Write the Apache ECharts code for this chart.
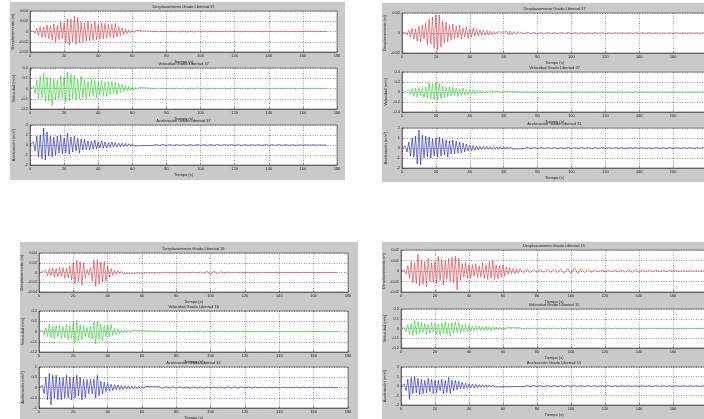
<!DOCTYPE html>
<html><head><meta charset="utf-8">
<script src="https://cdn.jsdelivr.net/npm/echarts@6/dist/echarts.min.js"></script>
<style>html,body{margin:0;padding:0;background:#fff}#c{width:704px;height:419px}</style>
</head><body><div id="c"></div>
<script>
// Time sampling: head values every 1 s from t=0 to t=70, tail values every 2 s from t=72
const headStep = 1, tailStart = 72, tailStep = 2;
const xTicks = [0,20,40,60,80,100,120,140,160,180];

// Units: displacement in mm, velocity in cm/s, acceleration in 0.1 m/s^2
const dispA_head = [0,0,1,-4,6,-8,10,-12,9,-11,13,-14,12,-17,15,-20,12,-16,19,-14,16,-22,25,-27,24,-20,30,-25,28,-22,18,-20,17,-19,21,-18,15,-17,19,-16,14,-15,17,-14,16,-13,15,-12,14,-13,16,-11,10,-8,7,-6,5,-4,3,-3,2,-2,2,-1.5,1.5,-1,1,-1,1,-0.8,0.8];
const dispA_tail = [-0.6,0.6,-0.5,0.6,-0.6,0.5,-0.6,0.7,-0.9,1.1,-1.4,1.5,-1.6,1.5,-1.4,1.2,-1,0.8,-0.6,0.6,-0.5,0.5,-0.5,0.5,-0.6,0.7,-0.7,0.6,-0.5,0.5,-0.5,0.6,-0.7,0.7,-0.6,0.5,-0.5,0.5,-0.4,0.5,-0.4,0.4,-0.4,0.4,-0.4,0.4,-0.3,0.3,-0.3,0.3,-0.2,0];
const velA_head = [0,0,2,-5,8,-10,12,-9,15,-13,11,-12,10,-17,9,-11,8,-10,12,-9,11,-13,16,-12,14,-10,13,-11,9,-10,12,-9,8,-10,7,-8,9,-7,8,-9,7,-6,8,-7,6,-8,7,-6,7,-5,6,-6,5,-4,4,-3,3,-2.5,2,-2,1.5,-1.5,1.2,-1,1,-0.8,0.8,-0.7,0.6,-0.6,0.5];
const velA_tail = [-0.5,0.5,-0.4,0.5,-0.4,0.4,-0.5,0.4,-0.4,0.5,-0.6,0.7,-0.8,0.8,-0.7,0.6,-0.5,0.5,-0.4,0.4,-0.4,0.4,-0.3,0.4,-0.4,0.3,-0.4,0.4,-0.3,0.3,-0.4,0.4,-0.3,0.3,-0.4,0.3,-0.3,0.3,-0.3,0.3,-0.3,0.3,-0.3,0.2,-0.3,0.3,-0.2,0.2,-0.2,0.2,-0.2,0];
const accA_head = [0,0,3,-6,9,-12,10,-14,17,-15,13,-11,9,-12,8,-10,9,-8,10,-9,7,-8,12,-9,8,-7,9,-6,7,-8,6,-5,6,-5,4,-5,4,-4,5,-4,3,-3,4,-3,3,-3,2.5,-2.5,3,-2,2.5,-2,2,-2,1.8,-1.6,1.5,-1.4,1.3,-1.2,1.2,-1,1,-0.8,0.8,-0.7,0.6,-0.6,0.5,-0.5,0.5];
const accA_tail = [-0.5,0.4,-0.4,0.5,-0.4,0.4,-0.4,0.4,-0.4,0.4,-0.5,0.5,-0.5,0.5,-0.4,0.4,-0.4,0.4,-0.3,0.4,-0.4,0.3,-0.3,0.4,-0.3,0.3,-0.4,0.3,-0.3,0.3,-0.3,0.3,-0.3,0.3,-0.3,0.3,-0.3,0.3,-0.3,0.3,-0.3,0.2,-0.3,0.2,-0.2,0.2,-0.2,0.2,-0.2,0.2,-0.2,0];

const dispB_head = [0,0,1,-2,3,-4,5,-6,4,-8,7,-9,8,-6,10,-12,14,-11,16,-15,18,-17,18,-14,12,-10,11,-9,8,-7,9,-6,7,-5,8,-6,5,-4,6,-5,4,-4,5,-3,4,-3,3,-2.5,3,-2,2.5,-2,2,-1.5,1.5,-1.2,1,-1,1,-0.8,0.8,-1,1.5,-1.8,2,-1.7,1.5,-1.2,1,-0.8,0.7];
const dispB_tail = [-0.6,0.6,-0.5,0.5,-0.5,0.4,-0.4,0.5,-0.4,0.4,-0.5,0.4,-0.4,0.5,-0.4,0.4,-0.4,0.4,-0.4,0.3,-0.3,0.4,-0.3,0.3,-0.4,0.3,-0.3,0.3,-0.3,0.3,-0.3,0.3,-0.3,0.3,-0.3,0.3,-0.3,0.3,-0.3,0.3,-0.3,0.2,-0.3,0.2,-0.2,0.2,-0.2,0.2,-0.2,0.2,-0.2,0.2,-0.2,0.2,-0.2];
const velB_head = [0,0,1,-3,4,-6,7,-9,8,-10,9,-7,9,-11,10,-12,18,-14,16,-15,19,-16,17,-13,12,-11,10,-9,11,-8,9,-7,8,-9,6,-7,8,-6,5,-6,5,-4,5,-4,4,-3,3,-3,2.5,-2.5,2,-2,1.8,-1.5,1.4,-1.2,1,-1,0.9,-0.8,0.8,-0.8,0.9,-1,0.9,-0.8,0.7,-0.7,0.6,-0.6,0.6];
const velB_tail = [-0.6,0.5,-0.5,0.5,-0.5,0.5,-0.4,0.5,-0.4,0.4,-0.4,0.4,-0.4,0.4,-0.4,0.4,-0.4,0.4,-0.4,0.4,-0.4,0.4,-0.3,0.4,-0.3,0.3,-0.3,0.3,-0.3,0.3,-0.3,0.3,-0.3,0.3,-0.3,0.3,-0.3,0.3,-0.3,0.3,-0.3,0.3,-0.3,0.3,-0.3,0.3,-0.3,0.3,-0.3,0.3,-0.3,0.3,-0.3,0.3,-0.3];
const accB_head = [0,0,2,-4,6,-8,10,-9,12,-16,18,-17,13,-10,12,-9,11,-10,9,-8,10,-9,11,-8,9,-7,8,-9,7,-6,8,-6,7,-5,6,-5,5,-4,4,-3,3,-2.5,2.5,-2,2,-2,1.8,-1.6,1.6,-1.5,1.5,-1.4,1.4,-1.3,1.4,-1.3,1.2,-1.2,1.3,-1.2,1.2,-1.2,1.1,-1,1.1,-1,1,-0.9,0.9,-0.8,0.8];
const accB_tail = [-0.8,0.7,-0.7,0.6,-0.6,0.6,-0.5,0.5,-0.5,0.5,-0.5,0.4,-0.4,0.4,-0.4,0.4,-0.4,0.4,-0.4,0.4,-0.4,0.4,-0.4,0.4,-0.3,0.3,-0.3,0.3,-0.3,0.3,-0.3,0.3,-0.3,0.3,-0.3,0.3,-0.3,0.3,-0.3,0.3,-0.3,0.3,-0.3,0.3,-0.3,0.3,-0.3,0.3,-0.3,0.3,-0.3,0.3,-0.3,0.3,-0.3];

const dispC_head = [0,0,1,-3,5,-7,8,-6,9,-10,8,-9,11,-8,10,-12,9,-11,14,-16,20,-23,25,-18,22,-26,20,-12,6,-5,10,-18,26,-28,27,-24,22,-20,23,-18,14,-10,8,-6,5,-4,3.5,-3,2.5,-2,2,-2,1.8,-1.5,1.5,-1.4,1.2,-1.2,1.1,-1,1,-1,1,-0.9,0.9,-0.8,0.8,-0.8,0.8,-0.7,0.7];
const dispC_tail = [-0.7,0.7,-0.6,0.6,-0.6,0.6,-0.6,0.6,-0.6,0.7,-0.8,1,-1.5,2.5,-3.5,3,-2.5,1.8,-1.2,1,-0.8,0.7,-0.6,0.6,-0.5,0.5,-0.5,0.5,-0.4,0.5,-0.4,0.4,-0.4,0.4,-0.4,0.4,-0.4,0.4,-0.3,0.4,-0.3,0.3,-0.3,0.3,-0.3,0.3,-0.3,0.3,-0.3,0.3,-0.2,0];
const velC_head = [0,0,1,-3,4,-5,7,-6,5,-7,6,-5,6,-7,5,-6,7,-8,6,-7,9,-10,11,-9,7,-8,6,-5,4,-6,5,-7,9,-12,10,-8,7,-9,6,-5,6,-5,7,-4,3,-3,2.5,-2,2,-1.5,1.5,-1.2,1.2,-1,1,-0.9,0.9,-0.8,0.8,-0.7,0.8,-0.7,0.7,-0.6,0.6,-0.6,0.6,-0.5,0.5,-0.5,0.5];
const velC_tail = [-0.5,0.5,-0.5,0.5,-0.4,0.5,-0.4,0.4,-0.4,0.5,-0.5,0.6,-0.7,0.8,-0.7,0.6,-0.5,0.5,-0.4,0.4,-0.4,0.4,-0.4,0.4,-0.3,0.4,-0.3,0.3,-0.3,0.3,-0.3,0.3,-0.3,0.3,-0.3,0.3,-0.3,0.3,-0.3,0.3,-0.3,0.3,-0.2,0.3,-0.2,0.2,-0.2,0.2,-0.2,0.2,-0.2,0];
const accC_head = [0,0,1,-3,5,-6,7,-8.5,6,-5,6,-6,5,-6,5,-5,6,-5,5,-6,5,-5,6,-4,5,-6,4,-5,4,-3,4,-3,4,-5,6,-4,3,-3,2.5,-2,2,-1.8,1.6,-1.5,1.4,-1.2,1.2,-1,1,-1,0.9,-0.8,0.8,-0.7,0.7,-0.6,0.6,-0.6,0.5,-0.5,0.5,-0.5,0.5,-0.4,0.5,-0.4,0.4,-0.4,0.4,-0.4,0.4];
const accC_tail = [-0.4,0.4,-0.3,0.4,-0.3,0.3,-0.3,0.3,-0.3,0.3,-0.3,0.3,-0.3,0.3,-0.3,0.3,-0.3,0.3,-0.3,0.3,-0.3,0.3,-0.3,0.3,-0.2,0.3,-0.2,0.2,-0.2,0.2,-0.2,0.2,-0.2,0.2,-0.2,0.2,-0.2,0.2,-0.2,0.2,-0.2,0.2,-0.2,0.2,-0.2,0.2,-0.2,0.2,-0.2,0.2,-0.2,0];

const dispD_head = [0,0,1,-3,5,-7,9,-11,8,-12,16,-14,10,-13,9,-15,12,-10,8,-11,9,-12,14,-9,11,-13,10,-8,12,-10,13,-11,14,-18,12,-9,7,-6,8,-7,6,-7,6,-5,7,-6,5,-6,8,-7,6,-8,9,-7,10,-8,6,-7,5,-6,6,-5,4,-3,3,-2.5,2.5,-2.5,2,-2,2];
const dispD_tail = [-2,2,-1.8,1.6,-1.5,1.5,-1.4,1.5,-1.6,1.6,-1.8,2,-2.2,2.5,-2.8,3,-2.6,2.2,-1.8,1.5,-1.2,1,-0.9,0.8,-0.8,0.7,-0.7,0.8,-0.9,1,-1.2,1.3,-1.5,1.6,-1.4,1.2,-1,0.8,-0.7,0.6,-0.6,0.5,-0.5,0.5,-0.4,0.4,-0.4,0.4,-0.4,0.3,-0.3,0.3,-0.3,0.3,-0.3];
const velD_head = [0,0,1,-3,4,-6,5,-7,8,-6,7,-5,6,-4,5,-6,4,-5,6,-4,5,-6,5,-7,6,-5,7,-6,5,-8,6,-5,7,-4,6,-5,4,-3,4,-3,3,-3,2.5,-2.5,3,-2,2.5,-2,2,-2,2.5,-2,2,-2.5,2,-1.8,1.6,-1.5,1.6,-1.4,1.2,-1.2,1,-1,1,-0.9,0.9,-0.8,0.8,-0.8,0.7];
const velD_tail = [-0.7,0.7,-0.6,0.6,-0.6,0.6,-0.6,0.6,-0.6,0.6,-0.7,0.7,-0.7,0.8,-0.7,0.7,-0.6,0.6,-0.5,0.5,-0.5,0.5,-0.5,0.5,-0.4,0.5,-0.4,0.4,-0.4,0.4,-0.4,0.4,-0.4,0.4,-0.4,0.4,-0.3,0.3,-0.3,0.3,-0.3,0.3,-0.3,0.3,-0.3,0.3,-0.3,0.3,-0.3,0.3,-0.3,0.3,-0.3,0.3,-0.3];
const accD_head = [0,0,2,-5,7,-14,9,-8,10,-7,8,-9,7,-8,6,-7,8,-6,7,-8,6,-7,6,-5,7,-8,6,-7,9,-8,6,-5,6,-4,5,-3,4,-3,3,-2.5,2.5,-2,2,-2,1.8,-1.6,1.5,-1.5,1.4,-1.3,1.2,-1.2,1.2,-1.1,1.2,-1,1,-1,1.1,-1,0.9,-0.9,0.8,-0.8,0.7,-0.7,0.7,-0.6,0.6,-0.6,0.6];
const accD_tail = [-0.6,0.5,-0.5,0.5,-0.5,0.5,-0.5,0.5,-0.5,0.5,-0.5,0.5,-0.5,0.5,-0.4,0.4,-0.4,0.4,-0.4,0.4,-0.4,0.4,-0.4,0.4,-0.4,0.4,-0.4,0.4,-0.3,0.3,-0.3,0.3,-0.3,0.3,-0.3,0.3,-0.3,0.3,-0.3,0.3,-0.3,0.3,-0.3,0.3,-0.3,0.3,-0.3,0.3,-0.3,0.3,-0.3,0.3,-0.3,0.3,-0.3];

const titles = [
  'Desplazamiento Grado Libertad 37','Velocidad Grado Libertad 37','Aceleración Grado Libertad 37',
  'Desplazamiento Grado Libertad 37','Velocidad Grado Libertad 37','Aceleración Grado Libertad 31',
  'Desplazamiento Grado Libertad 16','Velocidad Grado Libertad 16','Aceleración Grado Libertad 16',
  'Desplazamiento Grado Libertad 15','Velocidad Grado Libertad 15','Aceleración Grado Libertad 15'
];
const yNames = ['Desplazamiento (m)','Velocidad (m/s)','Aceleración (m/s²)'];
const yRanges = [ // [max, interval]
  [0.04,0.02],[0.2,0.1],[2,1],
  [0.02,0.02],[0.4,0.2],[2,1],
  [0.04,0.02],[0.2,0.1],[1,0.5],
  [0.02,0.01],[0.2,0.1],[2,1]
];
const seriesData = [
  [dispA_head,dispA_tail],[velA_head,velA_tail],[accA_head,accA_tail],
  [dispB_head,dispB_tail],[velB_head,velB_tail],[accB_head,accB_tail],
  [dispC_head,dispC_tail],[velC_head,velC_tail],[accC_head,accC_tail],
  [dispD_head,dispD_tail],[velD_head,velD_tail],[accD_head,accD_tail]
];
const unitScale = [0.001, 0.01, 0.1];

// layout (pixels)
const boxes = [
  [30,11,307,41],[30,68,307,41],[30,125,307,40],
  [402,13,305,40],[402,72,305,40],[402,128,305,40],
  [39,253,309,39],[39,311,309,41],[39,367,309,41],
  [401,250,306,42],[401,309,306,39],[401,367,306,38]
];
const panelRects = [[10,2,335,178],[382,3,330,179],[20,242,338,190],[382,242,330,190]];
const colors = ['#e0303c','#22d022','#1515c8'];
const FONT = 'Liberation Sans';
const FS = 4;

function build(head, tail, scale) {
  const d = [];
  head.forEach((v,i) => d.push([i*headStep, +(v*scale).toPrecision(6)]));
  tail.forEach((v,j) => d.push([tailStart + j*tailStep, +(v*scale).toPrecision(6)]));
  return d;
}

const grid = [], xAxis = [], yAxis = [], series = [], graphic = [];
panelRects.forEach(r => graphic.push({type:'rect', shape:{x:r[0],y:r[1],width:r[2],height:r[3]}, style:{fill:'#c9c9c9'}, z:-10, silent:true}));
const gridLine = {show:true, lineStyle:{type:[1,1.5], color:'#555', width:0.6}};
boxes.forEach((b,i) => {
  const k = i % 3;
  grid.push({left:b[0], top:b[1], width:b[2], height:b[3], show:true, backgroundColor:'#fff', borderColor:'#444', borderWidth:0.6, containLabel:false, outerBoundsMode:'none'});
  xAxis.push({type:'value', gridIndex:i, min:0, max:180, interval:20,
    name:'Tiempo (s)', nameLocation:'middle', nameGap:7.5, nameTextStyle:{fontSize:FS, fontFamily:FONT, color:'#222'},
    axisLine:{show:true, onZero:false, lineStyle:{color:'#444', width:0.6}},
    axisTick:{show:true, inside:true, length:2, lineStyle:{color:'#444', width:0.5}},
    axisLabel:{fontSize:FS, margin:1.5, fontFamily:FONT, color:'#222', hideOverlap:false},
    splitLine:gridLine});
  const yr = yRanges[i];
  yAxis.push({type:'value', gridIndex:i, min:-yr[0], max:yr[0], interval:yr[1],
    name:yNames[k], nameLocation:'middle', nameGap:14, nameRotate:90, nameTextStyle:{fontSize:FS, fontFamily:FONT, color:'#222'},
    axisLine:{show:true, lineStyle:{color:'#444', width:0.6}},
    axisTick:{show:true, inside:true, length:2, lineStyle:{color:'#444', width:0.5}},
    axisLabel:{fontSize:FS, margin:2, fontFamily:FONT, color:'#222'},
    splitLine:gridLine});
  series.push({type:'line', xAxisIndex:i, yAxisIndex:i, data:build(seriesData[i][0], seriesData[i][1], unitScale[k]),
    showSymbol:false, symbol:'none', lineStyle:{color:colors[k], width:0.6}, animation:false, clip:true, z:3});
  graphic.push({type:'text', x:b[0]+b[2]/2, y:b[1]-4.5, style:{text:titles[i], fontSize:FS, fontFamily:FONT, fill:'#222', textAlign:'center', textVerticalAlign:'middle'}, z:10});
});

const chart = echarts.init(document.getElementById('c'), null, {renderer:'canvas'});
chart.setOption({backgroundColor:'#fff', animation:false, grid, xAxis, yAxis, series, graphic});
</script>
</body></html>
